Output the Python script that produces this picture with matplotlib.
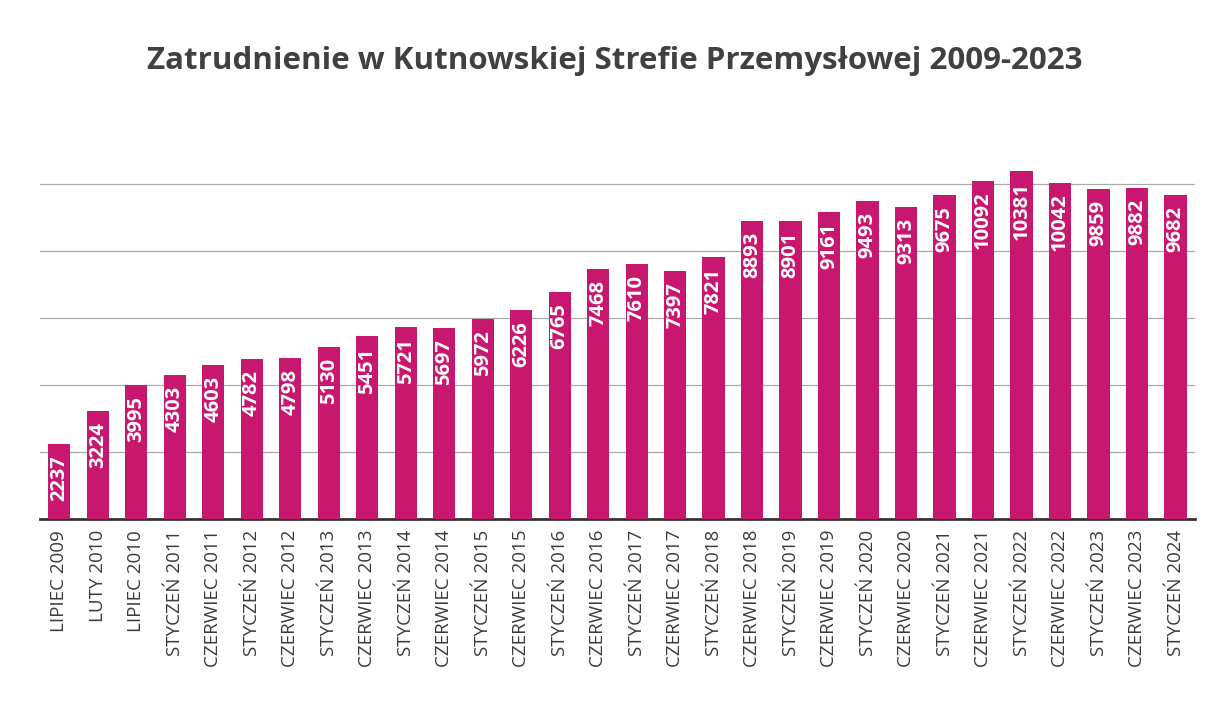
import matplotlib
matplotlib.use("Agg")
import matplotlib.pyplot as plt

title = "Zatrudnienie w Kutnowskiej Strefie Przemysłowej 2009-2023"
categories = ["LIPIEC 2009", "LUTY 2010", "LIPIEC 2010", "STYCZEŃ 2011", "CZERWIEC 2011",
              "STYCZEŃ 2012", "CZERWIEC 2012", "STYCZEŃ 2013", "CZERWIEC 2013", "STYCZEŃ 2014",
              "CZERWIEC 2014", "STYCZEŃ 2015", "CZERWIEC 2015", "STYCZEŃ 2016", "CZERWIEC 2016",
              "STYCZEŃ 2017", "CZERWIEC 2017", "STYCZEŃ 2018", "CZERWIEC 2018", "STYCZEŃ 2019",
              "CZERWIEC 2019", "STYCZEŃ 2020", "CZERWIEC 2020", "STYCZEŃ 2021", "CZERWIEC 2021",
              "STYCZEŃ 2022", "CZERWIEC 2022", "STYCZEŃ 2023", "CZERWIEC 2023", "STYCZEŃ 2024"]
values = [2237, 3224, 3995, 4303, 4603, 4782, 4798, 5130, 5451, 5721,
          5697, 5972, 6226, 6765, 7468, 7610, 7397, 7821, 8893, 8901,
          9161, 9493, 9313, 9675, 10092, 10381, 10042, 9859, 9882, 9682]
gridlines = [2000, 4000, 6000, 8000, 10000]

bar_color = "#c8176f"
plt.rcParams['font.family'] = ['Open Sans', 'DejaVu Sans']

fig = plt.figure(figsize=(12.13, 7.01), dpi=100)
fig.patch.set_facecolor("white")
ax = fig.add_axes([0.033, 0.26, 0.952, 0.573])

x = list(range(len(values)))
ax.bar(x, values, width=0.58, color=bar_color, zorder=3)
for xi, v in zip(x, values):
    ax.text(xi, v - 330, str(v), rotation=90, ha="center", va="top",
            color="white", fontsize=14.5, fontweight="bold", zorder=4)

for g in gridlines:
    ax.axhline(g, color="#aaaaaa", linewidth=0.9, zorder=1)

ax.set_xlim(-0.5, len(values) - 0.5)
ax.set_ylim(0, 12000)
ax.set_yticks([])
ax.set_xticks(x)
ax.set_xticklabels(categories, rotation=90, fontsize=13.5, color="#3a3a3a")
ax.tick_params(axis="x", length=0, pad=8)
for s in ["top", "right", "left"]:
    ax.spines[s].set_visible(False)
ax.spines["bottom"].set_color("#333333")
ax.spines["bottom"].set_linewidth(2)

fig.text(0.507, 0.913, title, ha="center", va="center", fontsize=22.5,
         fontweight="bold", color="#404040")

fig.savefig("out.png", dpi=100, facecolor="white")
